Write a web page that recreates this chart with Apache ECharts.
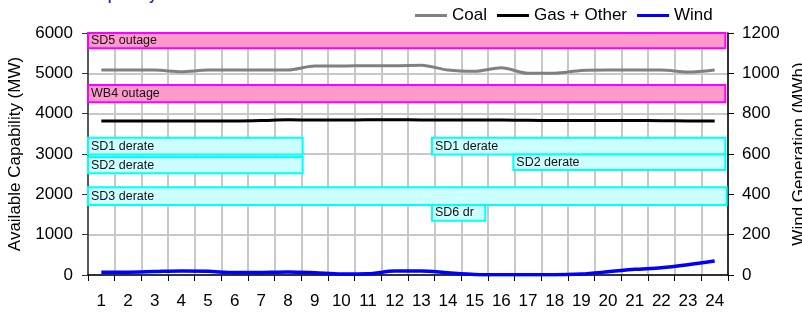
<!DOCTYPE html>
<html>
<head>
    <meta charset="utf-8">
    <title>Available Capability</title>
    <script src="https://cdn.jsdelivr.net/npm/echarts@6/dist/echarts.min.js"></script>
    <style>
        html, body { margin: 0; padding: 0; background: #fff; }
        #chart { width: 802px; height: 312px; }
    </style>
</head>
<body>
    <div id="chart"></div>
    <script>
        // hours of the day
        const hours = ['1','2','3','4','5','6','7','8','9','10','11','12','13','14','15','16','17','18','19','20','21','22','23','24'];

        // available capability (MW)
        const coal = [5080, 5080, 5080, 5040, 5080, 5080, 5080, 5080, 5180, 5180, 5190, 5190, 5200, 5080, 5050, 5140, 5000, 5000, 5070, 5080, 5080, 5080, 5030, 5080];
        const gasOther = [3820, 3820, 3820, 3820, 3820, 3820, 3830, 3850, 3840, 3840, 3850, 3850, 3845, 3840, 3840, 3840, 3835, 3830, 3830, 3830, 3830, 3825, 3820, 3820];
        // wind generation (MWh)
        const wind = [14, 14, 17, 20, 18, 12, 13, 15, 11, 5, 6, 20, 20, 11, 3, 1, 1, 1, 5, 16, 28, 36, 51, 69];

        // outage / derate annotation boxes (hour span 0..24, MW span)
        const boxNames = ['SD5 outage', 'WB4 outage', 'SD1 derate', 'SD2 derate', 'SD3 derate', 'SD1 derate', 'SD2 derate', 'SD6 dr'];
        const boxFrom = [0, 0, 0, 0, 0, 12.9, 15.95, 12.9];
        const boxTo = [23.9, 23.9, 8.05, 8.05, 23.95, 23.9, 23.9, 14.9];
        const boxTop = [6050, 4710, 3400, 2925, 2175, 3400, 2990, 1735];
        const boxBottom = [5620, 4280, 2990, 2520, 1735, 2990, 2605, 1345];
        const boxOutage = [true, true, false, false, false, false, false, false];

        const chart = echarts.init(document.getElementById('chart'));
        const font = 'Liberation Sans, Arial, sans-serif';
        const gridColor = '#c8c8c8';
        const plain = v => String(v);

        const boxes = boxNames.map((name, i) => [
            {
                name: name,
                coord: [boxFrom[i], boxTop[i]],
                itemStyle: boxOutage[i]
                    ? { color: '#ff99cc', borderColor: '#ff00ff', borderWidth: 2 }
                    : { color: '#ccffff', borderColor: '#00ffff', borderWidth: 2 }
            },
            { coord: [boxTo[i], boxBottom[i]] }
        ]);

        chart.setOption({
            animation: false,
            textStyle: { fontFamily: font },
            title: {
                text: 'Available Capability',
                left: 25,
                top: -11,
                padding: 0,
                textStyle: { fontSize: 14, fontWeight: 'bold', color: '#333399' }
            },
            legend: {
                left: 415,
                top: 7,
                padding: 0,
                icon: 'rect',
                itemWidth: 32,
                itemHeight: 3,
                itemGap: 10,
                data: ['Coal', 'Gas + Other', 'Wind'],
                textStyle: { fontSize: 17, color: '#000' }
            },
            grid: { left: 88, right: 74, top: 33, bottom: 37, containLabel: false, outerBoundsMode: 'none' },
            xAxis: [
                {
                    type: 'category',
                    data: hours,
                    boundaryGap: true,
                    axisLine: { lineStyle: { color: '#000', width: 1.5 } },
                    axisTick: { show: true, interval: 0, length: 6, lineStyle: { color: '#000' } },
                    axisLabel: { interval: 0, fontSize: 17, color: '#000', margin: 18 },
                    splitLine: { show: true, interval: 0, lineStyle: { color: gridColor, width: 2 } }
                },
                { type: 'value', min: 0, max: 24, show: false }
            ],
            yAxis: [
                {
                    type: 'value',
                    min: 0,
                    max: 6000,
                    interval: 1000,
                    name: 'Available Capability (MW)',
                    nameLocation: 'middle',
                    nameRotate: 90,
                    nameGap: 57,
                    nameTextStyle: { fontSize: 17, color: '#000' },
                    axisLine: { show: true, lineStyle: { color: '#333', width: 1.5 } },
                    axisTick: { show: true, length: 6, lineStyle: { color: '#333' } },
                    axisLabel: { fontSize: 17, color: '#000', margin: 15, formatter: plain },
                    splitLine: { show: true, lineStyle: { color: gridColor, width: 2 } }
                },
                {
                    type: 'value',
                    position: 'right',
                    min: 0,
                    max: 1200,
                    interval: 200,
                    name: 'Wind Generation (MWh)',
                    nameLocation: 'middle',
                    nameRotate: 90,
                    nameGap: 61,
                    nameTextStyle: { fontSize: 17, color: '#000' },
                    axisLine: { show: true, lineStyle: { color: '#000', width: 1.5 } },
                    axisTick: { show: true, length: 6, lineStyle: { color: '#000' } },
                    axisLabel: { fontSize: 17, color: '#000', margin: 14, formatter: plain },
                    splitLine: { show: false }
                }
            ],
            series: [
                {
                    name: 'Boxes',
                    type: 'line',
                    xAxisIndex: 1,
                    yAxisIndex: 0,
                    data: [],
                    silent: true,
                    markArea: {
                        silent: true,
                        label: {
                            show: true,
                            position: 'insideLeft',
                            distance: 4,
                            fontSize: 12.5,
                            color: '#111'
                        },
                        data: boxes
                    }
                },
                {
                    name: 'Coal',
                    type: 'line',
                    data: coal,
                    smooth: 0.3,
                    showSymbol: false,
                    symbol: 'none',
                    color: '#808080',
                    lineStyle: { color: '#808080', width: 3 }
                },
                {
                    name: 'Gas + Other',
                    type: 'line',
                    data: gasOther,
                    smooth: 0.3,
                    showSymbol: false,
                    symbol: 'none',
                    color: '#000000',
                    lineStyle: { color: '#000000', width: 3 }
                },
                {
                    name: 'Wind',
                    type: 'line',
                    yAxisIndex: 1,
                    data: wind,
                    smooth: 0.3,
                    showSymbol: false,
                    symbol: 'none',
                    color: '#0000ff',
                    lineStyle: { color: '#0000ff', width: 3.5 }
                }
            ]
        });

        window.addEventListener('resize', function () {
            chart.resize();
        });
    </script>
</body>
</html>
